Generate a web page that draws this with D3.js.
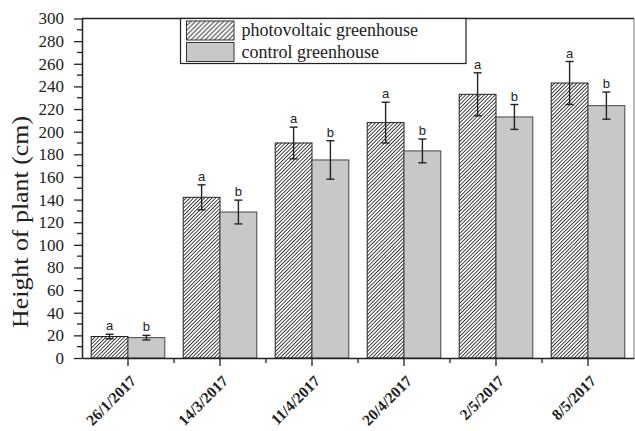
<!DOCTYPE html>
<html>
<head>
<meta charset="utf-8">
<script src="https://cdn.jsdelivr.net/npm/d3@7"></script>
<style>
  html, body { margin: 0; padding: 0; background: #fff; }
  svg { display: block; }
</style>
</head>
<body>
<svg id="chart" width="635" height="431"></svg>
<script>
// Plant height per sampling date, two greenhouse types
const dates = ["26/1/2017", "14/3/2017", "11/4/2017", "20/4/2017", "2/5/2017", "8/5/2017"];
const seriesNames = ["photovoltaic greenhouse", "control greenhouse"];
const pvHeight = [19, 142, 190, 208, 233, 243];
const pvError = [2, 11, 14, 18, 19, 19];
const ctrlHeight = [18, 129, 175, 183, 213, 223];
const ctrlError = [2, 10.5, 17, 10.5, 11, 12];
const pvLetters = ["a", "a", "a", "a", "a", "a"];
const ctrlLetters = ["b", "b", "b", "b", "b", "b"];
const yTicks = [0, 20, 40, 60, 80, 100, 120, 140, 160, 180, 200, 220, 240, 260, 280, 300];

const svg = d3.select("#chart");
const plotLeft = 82, plotRight = 634, plotTop = 18.5, plotBottom = 358;

const x = d3.scaleBand().domain(dates).range([plotLeft, plotRight]).paddingInner(0.2).paddingOuter(0.1);
const x1 = d3.scaleBand().domain([0, 1]).range([0, x.bandwidth()]);
const y = d3.scaleLinear().domain([0, 300]).range([plotBottom, plotTop]);

// diagonal hatch patterns ("/" direction)
const defs = svg.append("defs");
function hatch(id, gap, width) {
  const p = defs.append("pattern")
    .attr("id", id)
    .attr("patternUnits", "userSpaceOnUse")
    .attr("width", gap).attr("height", gap)
    .attr("patternTransform", "rotate(45)");
  p.append("rect").attr("width", gap).attr("height", gap).attr("fill", "#fff");
  p.append("line").attr("x1", gap / 2).attr("y1", 0).attr("x2", gap / 2).attr("y2", gap)
    .attr("stroke", "#222").attr("stroke-width", width);
}
hatch("hatch", 2.6, 0.85);
hatch("hatchLegend", 3.3, 0.9);

const grey = "#c7c8ca";
const series = [
  { vals: pvHeight, err: pvError, letters: pvLetters, fill: "url(#hatch)", stroke: "#222" },
  { vals: ctrlHeight, err: ctrlError, letters: ctrlLetters, fill: grey, stroke: "#444" }
];

// bars
series.forEach((s, si) => {
  svg.append("g").selectAll("rect")
    .data(dates)
    .join("rect")
    .attr("x", d => x(d) + x1(si))
    .attr("y", (d, i) => y(s.vals[i]))
    .attr("width", x1.bandwidth())
    .attr("height", (d, i) => y(0) - y(s.vals[i]))
    .attr("fill", s.fill)
    .attr("stroke", s.stroke)
    .attr("stroke-width", 1);
});

// error bars and significance letters
series.forEach((s, si) => {
  const g = svg.append("g").attr("stroke", "#222").attr("stroke-width", 1.4);
  dates.forEach((d, i) => {
    const cx = x(d) + x1(si) + x1.bandwidth() / 2;
    const hi = y(s.vals[i] + s.err[i]), lo = y(s.vals[i] - s.err[i]);
    g.append("line").attr("x1", cx).attr("x2", cx).attr("y1", hi).attr("y2", lo);
    g.append("line").attr("x1", cx - 4).attr("x2", cx + 4).attr("y1", hi).attr("y2", hi);
    g.append("line").attr("x1", cx - 4).attr("x2", cx + 4).attr("y1", lo).attr("y2", lo);
    svg.append("text")
      .attr("x", cx).attr("y", hi - 4)
      .attr("text-anchor", "middle")
      .attr("font-family", "Liberation Sans, Arial, sans-serif")
      .attr("font-size", 13)
      .attr("fill", "#222")
      .text(s.letters[i]);
  });
});

// y axis
const yAxis = svg.append("g").attr("transform", `translate(${plotLeft},0)`)
  .call(d3.axisLeft(y).tickValues(yTicks).tickSize(8).tickSizeOuter(0).tickPadding(10));
yAxis.select(".domain").attr("stroke", "#222").attr("stroke-width", 1.5);
yAxis.selectAll(".tick line").attr("stroke", "#222").attr("stroke-width", 1.3);
yAxis.selectAll(".tick text")
  .attr("font-family", "Liberation Serif, Times New Roman, serif")
  .attr("font-size", 17).attr("fill", "#222");
const yMinor = d3.range(10, 300, 20);
svg.append("g").selectAll("line").data(yMinor).join("line")
  .attr("x1", plotLeft - 5).attr("x2", plotLeft)
  .attr("y1", d => y(d)).attr("y2", d => y(d))
  .attr("stroke", "#222").attr("stroke-width", 1.3);

// x axis
const xAxis = svg.append("g").attr("transform", `translate(0,${plotBottom})`)
  .call(d3.axisBottom(x).tickSize(8).tickSizeOuter(0).tickFormat(""));
xAxis.select(".domain").attr("stroke", "#222").attr("stroke-width", 1.5);
xAxis.selectAll(".tick line").attr("stroke", "#222").attr("stroke-width", 1.3);
const xMinor = dates.slice(1).map(d => x(d) - x.step() * x.paddingInner() / 2);
svg.append("g").selectAll("line").data(xMinor).join("line")
  .attr("x1", d => d).attr("x2", d => d)
  .attr("y1", plotBottom).attr("y2", plotBottom + 5)
  .attr("stroke", "#222").attr("stroke-width", 1.3);

svg.append("g").selectAll("text").data(dates).join("text")
  .attr("transform", d => `translate(${x(d) + x.bandwidth() / 2 + 9},${plotBottom + 24}) rotate(-45)`)
  .attr("text-anchor", "end")
  .attr("font-family", "Liberation Serif, Times New Roman, serif")
  .attr("font-weight", "bold")
  .attr("font-size", 15.5)
  .attr("fill", "#222")
  .text(d => d);

// frame: top and right edges
svg.append("line").attr("x1", plotLeft).attr("x2", plotRight).attr("y1", plotTop).attr("y2", plotTop)
  .attr("stroke", "#222").attr("stroke-width", 1.5);
svg.append("line").attr("x1", plotRight).attr("x2", plotRight).attr("y1", plotTop).attr("y2", plotBottom)
  .attr("stroke", "#777").attr("stroke-width", 1);

// y axis title
svg.append("text")
  .attr("transform", `translate(28,222) rotate(-90)`)
  .attr("text-anchor", "middle")
  .attr("font-family", "Liberation Serif, Times New Roman, serif")
  .attr("font-size", 23)
  .attr("fill", "#222")
  .attr("textLength", 212)
  .attr("lengthAdjust", "spacingAndGlyphs")
  .text("Height of plant (cm)");

// legend
const leg = svg.append("g");
leg.append("rect").attr("x", 180.5).attr("y", plotTop).attr("width", 285.5).attr("height", 45)
  .attr("fill", "#fff").attr("stroke", "#222").attr("stroke-width", 1.2);
const legFills = ["url(#hatchLegend)", grey];
seriesNames.forEach((name, i) => {
  leg.append("rect").attr("x", 186.5).attr("y", 21 + i * 21.5).attr("width", 47.5).attr("height", 19)
    .attr("fill", legFills[i]).attr("stroke", "#333").attr("stroke-width", 1);
  leg.append("text").attr("x", 241.5).attr("y", 36 + i * 21.5)
    .attr("font-family", "Liberation Serif, Times New Roman, serif")
    .attr("font-size", 18)
    .attr("fill", "#222")
    .text(name);
});
</script>
</body>
</html>
